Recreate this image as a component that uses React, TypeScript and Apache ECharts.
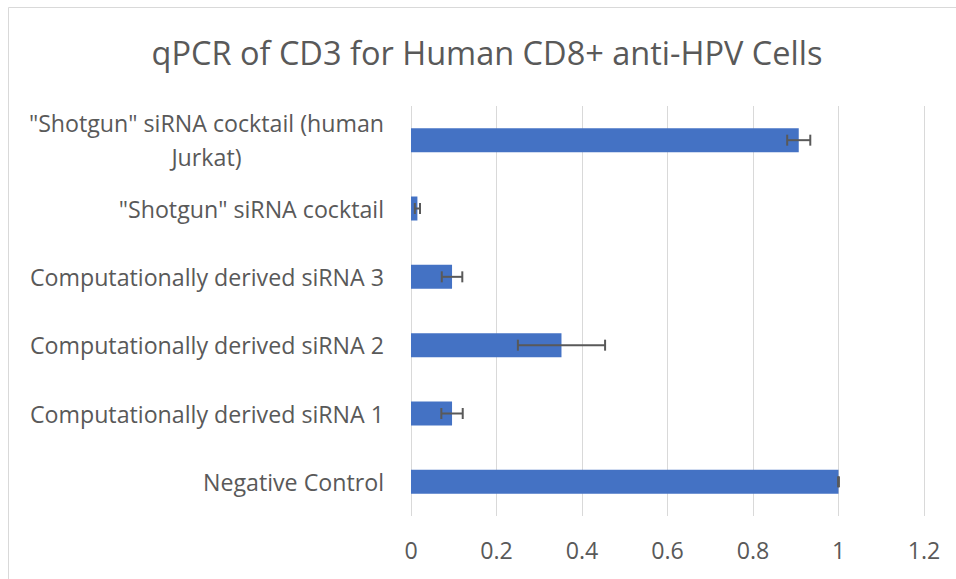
import React, { useEffect, useRef } from "react";
import * as echarts from "echarts";

const titleText = "qPCR of CD3 for Human CD8+ anti-HPV Cells";
const categories = [
  "Negative Control",
  "Computationally derived siRNA 1",
  "Computationally derived siRNA 2",
  "Computationally derived siRNA 3",
  '"Shotgun" siRNA cocktail',
  '"Shotgun" siRNA cocktail (human Jurkat)',
];
const values = [1.0, 0.096, 0.352, 0.096, 0.015, 0.907];
const errors = [0.001, 0.025, 0.102, 0.024, 0.006, 0.027];
const xTicks = [0, 0.2, 0.4, 0.6, 0.8, 1, 1.2];

const FONT = "Open Sans";
const LABEL_SIZE = 23.2;
const TEXT_COLOR = "#595959";

function measure(text: string): number {
  const c = document.createElement("canvas").getContext("2d");
  if (!c) return text.length * LABEL_SIZE * 0.5;
  c.font = `${LABEL_SIZE}px "${FONT}"`;
  return c.measureText(text).width;
}

function wrapLabel(text: string, maxChars: number): string[] {
  const words = text.split(" ");
  const lines: string[] = [];
  let cur = "";
  for (const w of words) {
    const next = cur ? cur + " " + w : w;
    if (next.length > maxChars && cur) {
      lines.push(cur);
      cur = w;
    } else cur = next;
  }
  if (cur) lines.push(cur);
  return lines;
}

export default function App() {
  const ref = useRef<HTMLDivElement>(null);
  useEffect(() => {
    if (!ref.current) return;
    const chart = echarts.init(ref.current, null, { renderer: "svg" });
    const errData = values.map((v, i) => [v, i, errors[i]]);
    chart.setOption({
      animation: false,
      backgroundColor: "#ffffff",
      textStyle: { fontFamily: FONT },
      graphic: [
        {
          type: "rect",
          shape: { x: 8.5, y: 7.5, width: 980, height: 600 },
          style: { fill: "none", stroke: "#d9d9d9", lineWidth: 1 },
          silent: true,
          z: -1,
        },
        {
          type: "text",
          style: {
            text: titleText,
            x: 487,
            y: 52,
            align: "center",
            verticalAlign: "middle",
            fontFamily: FONT,
            fontSize: 32.5,
            fill: TEXT_COLOR,
          },
        },
      ],
      grid: { left: 411, right: 32, top: 106, bottom: 63, containLabel: false },
      xAxis: {
        type: "value",
        min: 0,
        max: 1.2,
        interval: 0.2,
        axisLine: { show: false },
        axisTick: { show: false },
        splitLine: { show: true, lineStyle: { color: "#d9d9d9", width: 1 } },
        axisLabel: {
          color: TEXT_COLOR,
          fontSize: LABEL_SIZE,
          fontFamily: FONT,
          margin: 22,
          formatter: (v: number) => {
            const hit = xTicks.find((t) => Math.abs(t - v) < 1e-9);
            return hit === undefined ? "" : String(hit);
          },
        },
      },
      yAxis: {
        type: "category",
        data: categories,
        axisLine: { show: false },
        axisTick: { show: false },
        splitLine: { show: false },
        axisLabel: {
          color: TEXT_COLOR,
          fontSize: LABEL_SIZE,
          fontFamily: FONT,
          margin: 27,
          align: "right",
          formatter: (v: string) => {
            const lines = wrapLabel(v, 32);
            if (lines.length === 1) return v;
            const w = Math.max(...lines.map(measure));
            return lines.map((l) => `{c${Math.round(w)}|${l}}`).join("\n");
          },
          rich: (() => {
            const r: any = {};
            categories.forEach((cat) => {
              const lines = wrapLabel(cat, 32);
              if (lines.length > 1) {
                const w = Math.max(...lines.map(measure));
                r["c" + Math.round(w)] = {
                  width: w,
                  align: "center",
                  fontSize: LABEL_SIZE,
                  fontFamily: FONT,
                  color: TEXT_COLOR,
                  lineHeight: 34,
                };
              }
            });
            return r;
          })(),
        },
      },
      series: [
        {
          type: "bar",
          data: values,
          barWidth: 24,
          itemStyle: { color: "#4472C4" },
          z: 2,
        },
        {
          type: "custom",
          data: errData,
          encode: { x: 0, y: 1 },
          z: 3,
          renderItem: (params: any, api: any) => {
            const v = api.value(0);
            const idx = api.value(1);
            const e = api.value(2);
            const lo = api.coord([v - e, idx]);
            const hi = api.coord([v + e, idx]);
            const h = 11;
            const style = { stroke: "#595959", lineWidth: 2 };
            return {
              type: "group",
              children: [
                { type: "line", shape: { x1: lo[0], y1: lo[1], x2: hi[0], y2: hi[1] }, style },
                { type: "line", shape: { x1: lo[0], y1: lo[1] - h / 2, x2: lo[0], y2: lo[1] + h / 2 }, style },
                { type: "line", shape: { x1: hi[0], y1: hi[1] - h / 2, x2: hi[0], y2: hi[1] + h / 2 }, style },
              ],
            };
          },
        },
      ],
    });
    return () => chart.dispose();
  }, []);
  return (
    <div
      ref={ref}
      style={{ position: "absolute", left: 0, top: 0, width: 956, height: 579 }}
    />
  );
}
